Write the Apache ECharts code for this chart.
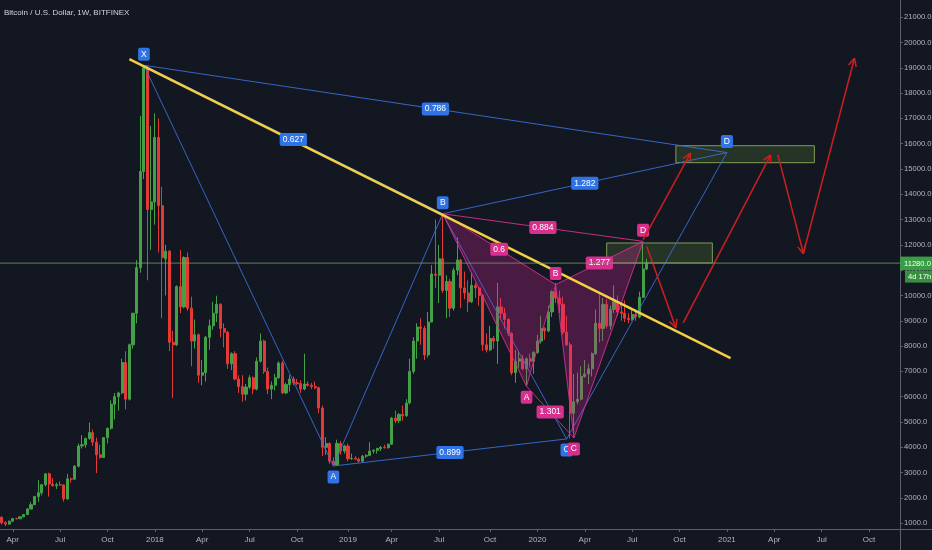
<!DOCTYPE html>
<html><head><meta charset="utf-8">
<script src="https://cdn.jsdelivr.net/npm/echarts@6/dist/echarts.min.js"></script>
<style>html,body{margin:0;padding:0;background:#131722;}#c{width:932px;height:550px;}</style>
</head><body><div id="c"></div>
<script>
// ---------- data ----------
const titleText = 'Bitcoin / U.S. Dollar, 1W, BITFINEX';
const firstWeek = '2017-03-13';
const weekCount = 247;           // weekly slots on the time axis (incl. future)
const categories = [];
(function () { const t0 = Date.parse(firstWeek + 'T00:00:00Z');
  for (let i = 0; i < weekCount; i++) categories.push(new Date(t0 + i * 604800000).toISOString().slice(0, 10)); })();

const opens  = [1240,1020,965,1080,1180,1175,1250,1340,1560,1730,2050,2200,2520,2950,2550,2480,2520,2510,1960,2750,2740,3250,4050,4100,4350,4580,4200,3700,3600,4380,4750,5700,6000,6150,7350,5900,8050,9300,11100,14900,19000,13400,13700,16250,13550,11450,11750,8150,8050,10350,9550,11500,9500,8200,8450,6850,6950,8350,8800,9300,9650,8700,8550,7300,7700,6700,6400,6100,6380,6750,6300,7400,8200,7000,6300,6450,6750,7330,6150,6480,6700,6550,6520,6300,6500,6450,6400,6350,5550,4000,4150,3450,3300,4150,3850,4050,3550,3560,3530,3450,3650,3680,3850,3880,3950,4000,3980,4120,5150,5050,5300,5250,5750,7000,8200,8750,8700,7650,8950,10850,10800,11450,10200,10550,9500,11000,11400,10300,10100,9750,10400,10300,10000,8050,7850,8300,8200,9550,9300,9050,8500,6950,7400,7500,7100,7500,7400,7750,8200,8700,8600,9350,10150,9900,9650,8550,8050,5350,5800,5900,6800,6900,7100,7700,8900,8700,9650,8800,9450,9750,9350,9300,9100,9050,9250,9150,9930,11050];
const highs  = [1260,1080,1100,1210,1215,1260,1350,1600,1840,2080,2700,2550,2980,3000,2780,2600,2650,2530,2950,2800,3300,4150,4480,4380,4980,4700,4380,4100,4400,4780,5850,6150,6200,7500,7800,8100,9300,11400,17100,19100,19100,16700,17200,17000,14300,12000,11800,8600,10400,11800,11550,11700,9950,9050,8500,7450,8400,9050,9750,9990,9700,8900,8600,7750,7800,6850,6850,6500,6850,6800,7550,8500,8250,7150,6600,6900,7400,7420,6550,6850,6800,6700,6650,7700,6600,6550,6600,6400,5650,4400,4200,3600,4300,4250,4100,4150,3750,3650,3600,3700,3720,4200,3920,3980,4050,4100,4150,5200,5450,5350,5650,5900,7500,8350,8900,9100,8800,9350,11200,13000,12000,13250,10800,10650,11100,12300,11450,10950,10600,10900,10500,10350,10050,8500,8800,8400,10500,9900,9500,9100,8550,7850,7800,7650,7550,7700,7800,8450,9200,8750,9600,10200,10500,10200,9950,9200,8150,6900,6950,7200,7450,7300,7750,9450,10050,9900,9850,9600,10400,10000,9750,9800,9300,9450,9350,10150,12100,11450];
const lows   = [950,890,940,1060,1150,1170,1240,1340,1550,1720,1850,2100,2450,2050,2450,2350,2480,1850,1930,2600,2720,3200,3950,3980,4300,4050,2980,3550,3580,4150,4700,5100,5450,6100,5500,5850,7900,8900,10900,14600,10600,11800,12800,11700,9100,10000,7800,5950,8000,9300,9500,9400,7200,7900,6550,6450,6600,7850,8650,8950,8350,7950,7100,7050,6650,6150,5800,5850,6300,6100,6250,7350,6900,6100,5900,6250,6700,6100,6100,6200,6450,6450,6150,6250,6400,6300,6300,5350,3650,3700,3350,3250,3260,3700,3750,3450,3500,3500,3400,3400,3580,3650,3750,3750,3850,3950,3950,4100,4950,4950,5050,5200,5700,6900,7500,8050,7450,7550,8950,10300,9700,10100,9100,9150,9400,10800,9500,9850,9350,9700,9900,9600,7800,7750,7800,7900,7300,9050,8700,8400,6850,6550,7150,7050,6430,7150,6900,7700,8100,8250,8550,9150,9700,9300,8450,8000,4350,4500,5700,5850,6750,6500,6800,7650,8150,8200,8700,8650,9300,9200,9000,8950,8900,9000,9000,9100,9900,11000];
const closes = [1020,965,1080,1180,1175,1250,1340,1560,1730,2050,2200,2520,2950,2550,2480,2520,2510,1960,2750,2740,3250,4050,4100,4350,4580,4200,3700,3600,4380,4750,5700,6000,6150,7350,5900,8050,9300,11100,14900,19000,13400,13700,16250,13550,11500,11750,8150,8050,10350,9550,11500,9500,8200,8450,6850,6950,8350,8800,9300,9650,8700,8550,7300,7700,6700,6400,6100,6380,6750,6300,7400,8200,7000,6300,6450,6750,7330,6150,6480,6700,6550,6520,6300,6500,6450,6400,6350,5550,4000,4150,3450,3300,4150,3850,4050,3550,3560,3530,3450,3650,3680,3850,3880,3950,4000,3980,4120,5150,5050,5300,5250,5750,7000,8200,8750,8700,7650,8950,10850,10800,11450,10200,10550,9500,11000,11400,10300,10100,9750,10400,10300,10000,8050,7850,8300,8200,9550,9300,9050,8500,6950,7400,7500,7100,7500,7400,7750,8200,8700,8600,9350,10150,9900,9650,8550,8050,5350,5800,5900,6800,6900,7100,7700,8900,8700,9650,8800,9450,9750,9350,9300,9100,9050,9250,9150,9930,11050,11280];

const priceTicks = [1000,2000,3000,4000,5000,6000,7000,8000,9000,10000,11000,12000,13000,14000,15000,16000,17000,18000,19000,20000,21000];
const countdownText = '4d 17h';

// harmonic pattern points [week, price] in order X, A, B, C, D
const bluePattern = [['2017-12-11',19100],['2018-12-10',3260],['2019-07-08',13230],['2020-03-02',4330],['2021-01-04',15650]];
const blueRatios  = ['0.627','0.899','1.282','0.786'];   // XB, AC, BD, XD
const pinkPattern = [['2019-07-08',13230],['2019-12-16',6410],['2020-02-10',10430],['2020-03-16',4370],['2020-07-27',12140]];
const pinkRatios  = ['0.6','1.301','1.277','0.884'];
const patternLetters = ['X','A','B','C','D'];

const trendLine = [['2017-11-13',19340],['2021-01-11',7525]];
const zones = [[['2020-09-28',15920],['2021-06-21',15250]], [['2020-05-18',12075],['2020-12-07',11285]]];
const arrows = [
  [['2020-07-27',12200],['2020-10-26',15630]],
  [['2020-08-03',11940],['2020-09-28',8720]],
  [['2020-10-12',8915],['2021-03-29',15560]],
  [['2021-04-12',15560],['2021-05-31',11650]],
  [['2021-05-31',11680],['2021-09-06',19380]]
];

// ---------- chart ----------
const F = "'Liberation Sans Narrow','Liberation Sans',sans-serif";
const idx = d => categories.indexOf(d);
const candleData = opens.map((o, i) => [o, closes[i], lows[i], highs[i]]);
const lastPrice = closes[closes.length - 1];
const isQuarter = i => { const d = categories[i]; const m = +d.slice(5, 7); return +d.slice(8, 10) <= 7 && (m === 1 || m === 4 || m === 7 || m === 10); };
const mNames = {4: 'Apr', 7: 'Jul', 10: 'Oct'};

function renderOverlay(params, api) {
  const cs = params.coordSys;
  const P = p => api.coord([idx(p[0]), p[1]]);
  const kids = [];
  const line = (a, b, stroke, w) => kids.push({type: 'line', shape: {x1: a[0], y1: a[1], x2: b[0], y2: b[1]}, style: {stroke, lineWidth: w}});
  const tag = (x, y, text, bg) => kids.push({type: 'text', x, y, style: {text, fill: '#ffffff', font: '8.5px ' + F, align: 'center', verticalAlign: 'middle', backgroundColor: bg, padding: [2, 3, 1, 3], borderRadius: 2, lineHeight: 10}});

  zones.forEach(z => { const a = P(z[0]), b = P(z[1]);
    kids.push({type: 'rect', shape: {x: a[0], y: a[1], width: b[0] - a[0], height: b[1] - a[1]}, style: {fill: 'rgba(110,170,60,0.2)', stroke: '#7f9f56', lineWidth: 1}}); });

  function pattern(pts, stroke, fill) {
    const c = pts.map(P);
    if (fill) {
      kids.push({type: 'polygon', shape: {points: [c[0], c[1], c[2]]}, style: {fill}});
      kids.push({type: 'polygon', shape: {points: [c[2], c[3], c[4]]}, style: {fill}});
    }
    kids.push({type: 'polyline', shape: {points: c}, style: {stroke, lineWidth: 1, fill: null}});
    const pairs = [[0, 2], [1, 3], [2, 4], [0, 4]];
    pairs.forEach(p => line(c[p[0]], c[p[1]], stroke, 1));
    return {c, pairs};
  }
  function labels(res, ratios, bg, skipX) {
    const {c, pairs} = res;
    pairs.forEach((p, k) => tag((c[p[0]][0] + c[p[1]][0]) / 2, (c[p[0]][1] + c[p[1]][1]) / 2, ratios[k], bg));
    c.forEach((pt, k) => { if (skipX && k === 0) return;
      const up = (k % 2 === 0); tag(pt[0], pt[1] + (up ? -11 : 11), patternLetters[k], bg); });
  }
  const blue = pattern(bluePattern, 'rgba(58,110,215,0.9)', null);
  const pink = pattern(pinkPattern, 'rgba(214,48,140,0.9)', 'rgba(214,40,150,0.28)');
  const t = trendLine.map(P); line(t[0], t[1], '#f2cf45', 2.5);
  labels(blue, blueRatios, '#2f73e6', false);
  labels(pink, pinkRatios, '#d6308c', true);

  arrows.forEach(a => { const s = P(a[0]), e = P(a[1]);
    line(s, e, '#cc1f1f', 1.5);
    const ang = Math.atan2(e[1] - s[1], e[0] - s[0]), L = 9, th = 0.45;
    [ang + Math.PI - th, ang + Math.PI + th].forEach(g => line(e, [e[0] + L * Math.cos(g), e[1] + L * Math.sin(g)], '#cc1f1f', 1.5)); });

  // last price line + axis tags
  const yp = api.coord([0, lastPrice])[1];
  const right = cs.x + cs.width, bottom = cs.y + cs.height;
  kids.push({type: 'line', shape: {x1: cs.x, y1: yp, x2: right, y2: yp}, style: {stroke: 'rgba(125,160,115,0.75)', lineWidth: 1}});
  kids.push({type: 'rect', shape: {x: right, y: yp - 6.5, width: 932 - right, height: 13.5}, style: {fill: '#3b9c46'}});
  kids.push({type: 'text', x: right + 4, y: yp + 0.5, style: {text: lastPrice.toFixed(1), fill: '#ffffff', font: '7.6px ' + F, verticalAlign: 'middle'}});
  kids.push({type: 'rect', shape: {x: right + 5, y: yp + 7.5, width: 932 - right - 5, height: 12}, style: {fill: '#369040'}});
  kids.push({type: 'text', x: right + 8, y: yp + 13.5, style: {text: countdownText, fill: '#ffffff', font: '7.6px ' + F, verticalAlign: 'middle'}});
  // axis line extensions
  kids.push({type: 'line', shape: {x1: right + 0.5, y1: bottom, x2: right + 0.5, y2: 550}, style: {stroke: '#5d606b', lineWidth: 1}});
  kids.push({type: 'line', shape: {x1: right, y1: bottom + 0.5, x2: 932, y2: bottom + 0.5}, style: {stroke: '#5d606b', lineWidth: 1}});
  return {type: 'group', children: kids};
}

const chart = echarts.init(document.getElementById('c'));
chart.setOption({
  backgroundColor: '#131722',
  animation: false,
  title: {text: titleText, left: 4, top: 9, padding: 0, textStyle: {color: '#d1d4dc', fontSize: 8, fontWeight: 'normal', fontFamily: F}},
  grid: {left: 0, right: 32, top: 0, bottom: 21, containLabel: false, outerBoundsMode: 'none'},
  xAxis: {
    type: 'category', data: categories, boundaryGap: true,
    axisLine: {lineStyle: {color: '#5d606b'}},
    axisTick: {show: true, alignWithLabel: true, length: 3, interval: (i) => isQuarter(i), lineStyle: {color: '#5d606b'}},
    axisLabel: {interval: (i) => isQuarter(i), color: '#b2b5be', fontSize: 8, fontFamily: F, margin: 7,
      formatter: v => { const m = +v.slice(5, 7); return m === 1 ? v.slice(0, 4) : mNames[m]; }},
    splitLine: {show: false}
  },
  yAxis: {
    type: 'value', position: 'right', min: 770, max: 21680, scale: true,
    axisLine: {show: true, lineStyle: {color: '#5d606b'}},
    axisTick: {show: true, length: 3, customValues: priceTicks, lineStyle: {color: '#5d606b'}},
    axisLabel: {customValues: priceTicks, color: '#b2b5be', fontSize: 7.6, fontFamily: F, margin: 4, formatter: v => v.toFixed(1)},
    splitLine: {show: false}
  },
  series: [
    {type: 'candlestick', data: candleData, barWidth: 2.6,
      itemStyle: {color: '#43a047', color0: '#e53935', borderColor: '#43a047', borderColor0: '#e53935', borderWidth: 1}},
    {type: 'custom', data: [0], renderItem: renderOverlay, silent: true, z: 10}
  ]
});
</script></body></html>
